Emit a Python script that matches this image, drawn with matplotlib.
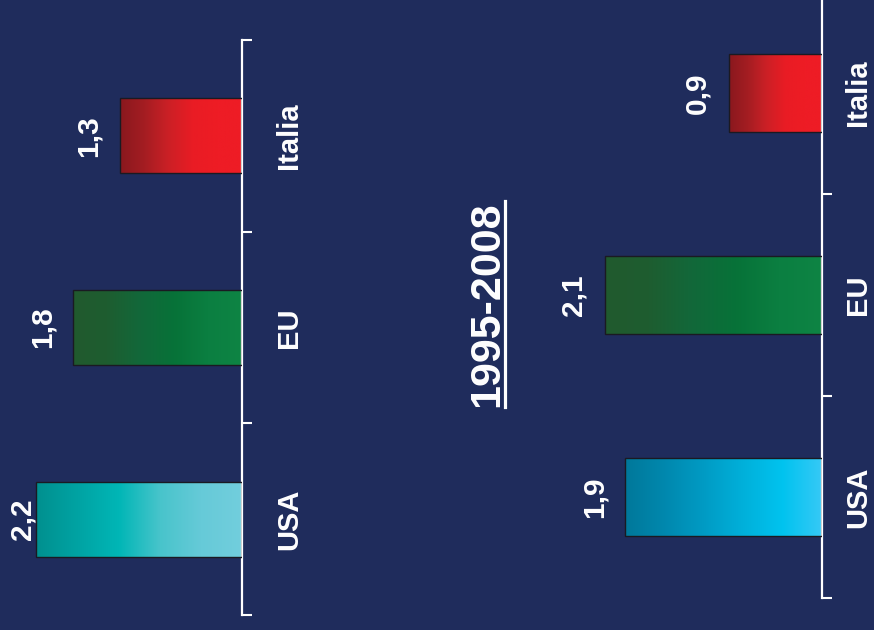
import matplotlib
matplotlib.use('Agg')
import matplotlib.pyplot as plt
import numpy as np
from matplotlib.colors import LinearSegmentedColormap
from matplotlib.patches import Rectangle
from matplotlib.lines import Line2D

# ---------------- data ----------------
categories = ['Italia', 'EU', 'USA']
values_left = [1.3, 1.8, 2.2]
values_right = [0.9, 2.1, 1.9]
value_labels_left = ['1,3', '1,8', '2,2']
value_labels_right = ['0,9', '2,1', '1,9']
title = '1995-2008'

# ---------------- style ----------------
BG = '#1F2C5C'
W, H = 874, 630
plt.rcParams['font.family'] = ['Liberation Sans', 'DejaVu Sans']

grad_left = {
    'Italia': ['#8A181E', '#A41D22', '#CC2026', '#E91C24', '#EE1C25', '#EE1C25'],
    'EU': ['#215A2E', '#1E5D30', '#12683A', '#077238', '#0B7F41', '#0E8444'],
    'USA': ['#00908F', '#00A3A3', '#00B6B6', '#48C4CB', '#66CAD8', '#72CEDD'],
}
grad_right = {
    'Italia': ['#8A181E', '#A41D22', '#CC2026', '#E91C24', '#EE1C25', '#EE1C25'],
    'EU': ['#215A2E', '#1E5D30', '#12683A', '#077238', '#0B7F41', '#0E8444'],
    'USA': ['#00789A', '#0088AE', '#009BC4', '#00B0DA', '#00C3EF', '#36C9F6'],
}

fig = plt.figure(figsize=(W / 100, H / 100), dpi=100, facecolor=BG)


def panel(values, vlabels, grads, left_px, axis_px, top_px, bottom_px, scale,
          cat_base_px, val_gap_px, min_base_px):
    ax = fig.add_axes([left_px / W, 1 - bottom_px / H,
                       (axis_px - left_px) / W, (bottom_px - top_px) / H])
    ax.patch.set_visible(False)
    xmax = (axis_px - left_px) / scale
    h = 0.39
    grad = np.linspace(0, 1, 256).reshape(1, -1)
    for i, (cat, v, lab) in enumerate(zip(categories, values, vlabels)):
        rect = Rectangle((0, i - h / 2), v, h, facecolor='none',
                         edgecolor='#1A1A22', lw=1.0, zorder=3)
        ax.add_patch(rect)
        cmap = LinearSegmentedColormap.from_list(cat, grads[cat])
        im = ax.imshow(grad, cmap=cmap, aspect='auto',
                       extent=(v, 0, i + h / 2, i - h / 2), zorder=2)
        im.set_clip_path(rect)
        # value label (baseline to the left of bar end)
        bar_end_px = axis_px - v * scale
        base_px = max(bar_end_px - val_gap_px, min_base_px)
        xv = (axis_px - base_px) / scale
        ax.text(xv, i, lab, rotation=90, rotation_mode='anchor',
                ha='center', va='baseline', color='white', fontsize=21.5,
                fontweight='bold', clip_on=False)
        # category label
        xc = (axis_px - cat_base_px) / scale
        ax.text(xc, i, cat, rotation=90, rotation_mode='anchor',
                ha='center', va='baseline', color='white', fontsize=21,
                fontweight='bold', clip_on=False)
    ax.set_xlim(xmax, 0)
    ax.set_ylim(2.5, -0.5)
    for s in ['top', 'left', 'bottom']:
        ax.spines[s].set_visible(False)
    ax.spines['right'].set_color('white')
    ax.spines['right'].set_linewidth(1.6)
    ax.set_xticks([])
    ax.yaxis.set_ticks_position('right')
    ax.set_yticks([-0.5, 0.5, 1.5, 2.5])
    ax.tick_params(axis='y', direction='out', length=7.5, width=1.5,
                   color='white', labelright=False, labelleft=False)
    return ax


panel(values_left, value_labels_left, grad_left, 0, 242, 40, 615, 93.8,
      297, 23, 31)
panel(values_right, value_labels_right, grad_right, 540, 822, -8, 598, 103.5,
      866, 23, 540 + 31)

# title with underline
t = fig.text(498 / W, 1 - 304 / H, title, rotation=90, rotation_mode='anchor',
             ha='center', va='baseline', color='white', fontsize=31,
             fontweight='bold')
fig.canvas.draw()
bb = t.get_window_extent()
fig.add_artist(Line2D([505 / W, 505 / W], [bb.y0 / H, bb.y1 / H],
                      transform=fig.transFigure, color='white', lw=2.3))

fig.savefig('out.png', dpi=100, facecolor=BG)
